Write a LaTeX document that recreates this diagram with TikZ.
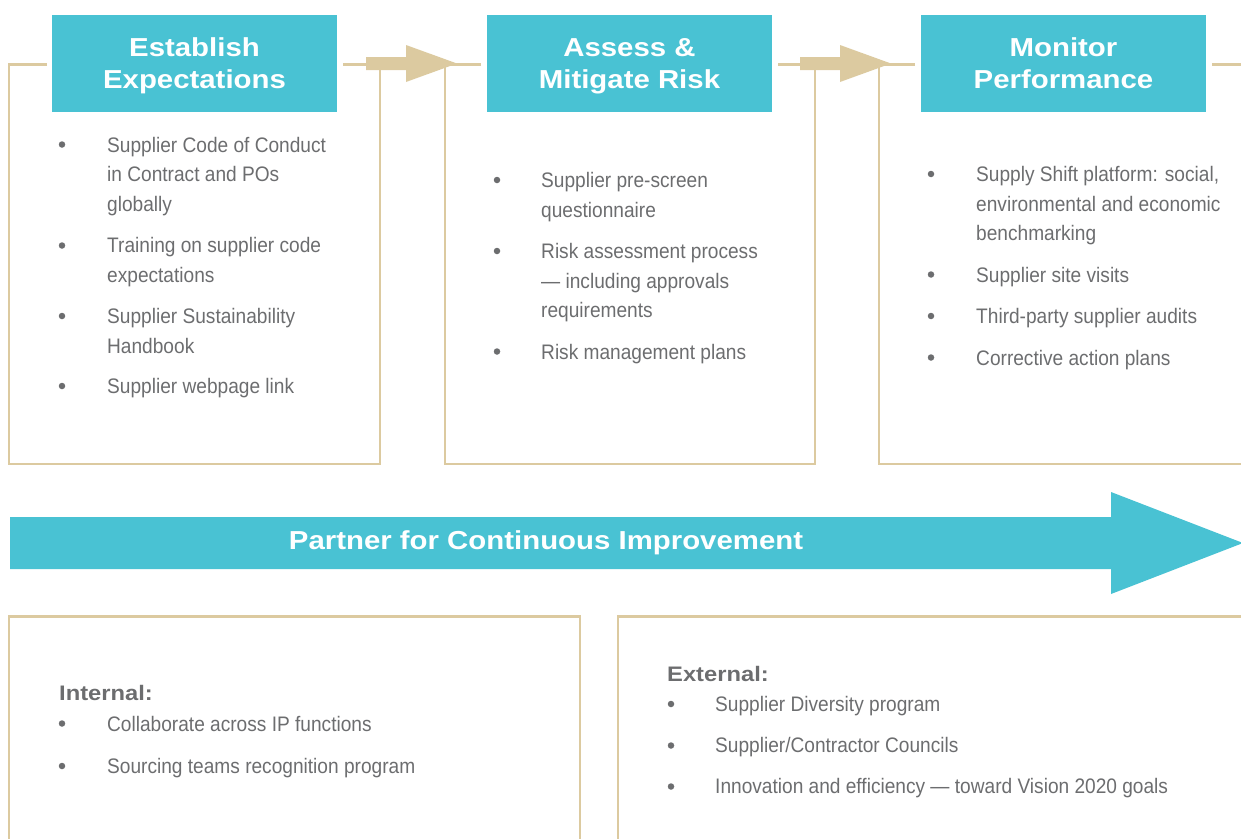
\documentclass[tikz,border=0pt]{standalone}
\usepackage{fontspec}
\setmainfont{Liberation Sans}
\newfontfamily\bodyfont[FakeStretch=0.91]{Liberation Sans}
\newfontfamily\headfont[FakeStretch=1.13]{Liberation Sans}
\definecolor{teal}{RGB}{73,194,211}
\definecolor{tan}{RGB}{220,202,160}
\definecolor{txtgray}{RGB}{108,109,111}
\tikzset{
  frame/.style={draw=tan,line width=2.6pt},
  header/.style={fill=teal,minimum width=285pt,minimum height=97pt,inner sep=0pt,text depth=0pt,
    text=white,align=center,font=\headfont\bfseries\fontsize{26}{32}\selectfont},
  txt/.style={anchor=base west,inner sep=0pt,text=txtgray,font=\bodyfont\fontsize{21}{29.5}\selectfont},
  subhead/.style={anchor=base west,inner sep=0pt,text=txtgray,font=\headfont\bfseries\fontsize{21}{29.5}\selectfont},
  bul/.style={circle,fill=txtgray,inner sep=0pt,minimum size=6.5pt},
  tanarrow/.style={fill=tan},
}
\begin{document}
\begin{tikzpicture}[x=1pt,y=-1pt]
\useasboundingbox (0,0) rectangle (1241,838);
% frames of top boxes
\draw[frame] (47,64.5) -- (9,64.5) -- (9,464) -- (380,464) -- (380,64.5) -- (343,64.5);
\draw[frame] (481,64.5) -- (445,64.5) -- (445,464) -- (815,464) -- (815,64.5) -- (778,64.5);
\draw[frame] (915,64.5) -- (879,64.5) -- (879,464) -- (1245,464);
\draw[frame] (1212,64.5) -- (1245,64.5);
% small arrows
\fill[tanarrow] (366,57) -- (406,57) -- (406,45) -- (457,63.5) -- (406,82) -- (406,70) -- (366,70) -- cycle;
\fill[tanarrow] (800,57) -- (840,57) -- (840,45) -- (891,63.5) -- (840,82) -- (840,70) -- (800,70) -- cycle;
% headers
\node[header] (h1) at (194.5,63.5) {Establish\\Expectations};
\node[header] (h2) at (629.5,63.5) {Assess \&\\Mitigate Risk};
\node[header] (h3) at (1063.5,63.5) {Monitor\\Performance};
% box 1 items
\foreach \n/\y in {a/144.5,b/245.5,c/316,d/386}{\node[bul] (b1\n) at (62,\y) {};}
\node[txt] (t1a) at (107,152) {Supplier Code of Conduct};
\node[txt] (t1b) at (107,181.5) {in Contract and POs};
\node[txt] (t1c) at (107,211) {globally};
\node[txt] (t1d) at (107,252.5) {Training on supplier code};
\node[txt] (t1e) at (107,282) {expectations};
\node[txt] (t1f) at (107,323.5) {Supplier Sustainability};
\node[txt] (t1g) at (107,353) {Handbook};
\node[txt] (t1h) at (107,393.5) {Supplier webpage link};
% box 2 items
\foreach \n/\y in {a/180,b/251,c/351.5}{\node[bul] (b2\n) at (497,\y) {};}
\node[txt] (t2a) at (541,187.5) {Supplier pre-screen};
\node[txt] (t2b) at (541,217) {questionnaire};
\node[txt] (t2c) at (541,258.5) {Risk assessment process};
\node[txt] (t2d) at (541,288) {\textemdash\ including approvals};
\node[txt] (t2e) at (541,317.5) {requirements};
\node[txt] (t2f) at (541,359) {Risk management plans};
% box 3 items
\foreach \n/\y in {a/174,b/274.5,c/316,d/357.5}{\node[bul] (b3\n) at (931,\y) {};}
\node[txt] (t3a) at (976,181.5) {Supply Shift platform: social,};
\node[txt] (t3b) at (976,211) {environmental and economic};
\node[txt] (t3c) at (976,240.5) {benchmarking};
\node[txt] (t3d) at (976,282) {Supplier site visits};
\node[txt] (t3e) at (976,323.5) {Third-party supplier audits};
\node[txt] (t3f) at (976,365) {Corrective action plans};
% big arrow
\fill[teal] (10,517) -- (1111,517) -- (1111,492) -- (1243,543) -- (1111,594) -- (1111,569) -- (10,569) -- cycle;
\node[text=white,font=\headfont\bfseries\fontsize{26}{30}\selectfont,inner sep=0pt] (pc) at (546,543) {Partner for Continuous Improvement};
% bottom boxes
\draw[frame] (9,845) -- (9,616.5) -- (580,616.5) -- (580,845);
\draw[frame] (618,845) -- (618,616.5) -- (1245,616.5);
\node[subhead] (int) at (59,700.5) {Internal:};
\foreach \n/\y in {a/723.5,b/766}{\node[bul] (b4\n) at (62,\y) {};}
\node[txt] (t4a) at (107,731) {Collaborate across IP functions};
\node[txt] (t4b) at (107,773.5) {Sourcing teams recognition program};
\node[subhead] (ext) at (667,681.5) {External:};
\foreach \n/\y in {a/704,b/745.5,c/786.5}{\node[bul] (b5\n) at (671,\y) {};}
\node[txt] (t5a) at (715,711.5) {Supplier Diversity program};
\node[txt] (t5b) at (715,752.5) {Supplier/Contractor Councils};
\node[txt] (t5c) at (715,793.5) {Innovation and efficiency \textemdash\ toward Vision 2020 goals};
\end{tikzpicture}
\end{document}
